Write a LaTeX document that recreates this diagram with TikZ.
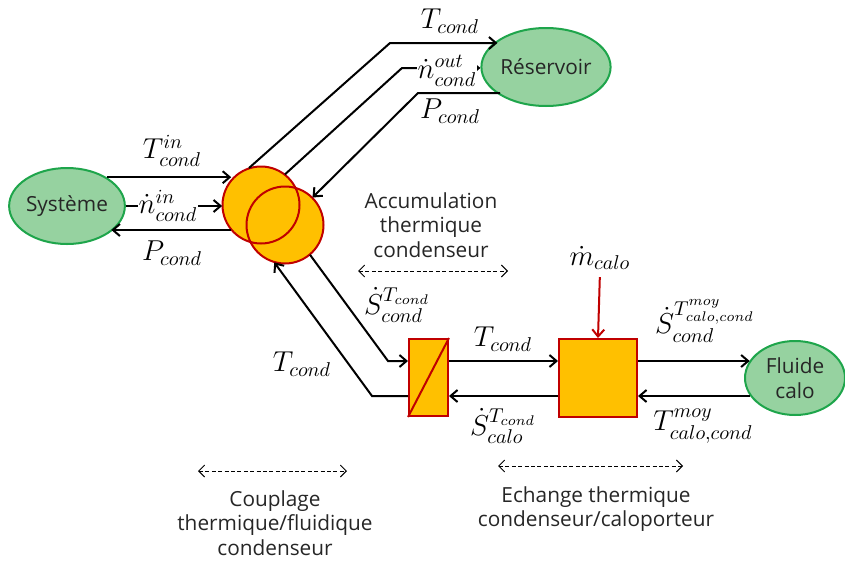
\documentclass[tikz,border=0pt]{standalone}
\usepackage{amsmath}
\usepackage{fontspec}
\setmainfont{Open Sans}
\usetikzlibrary{positioning,arrows.meta,calc,shapes.geometric}
\definecolor{leaf}{RGB}{150,210,160}
\definecolor{leafline}{RGB}{30,165,75}
\definecolor{amber}{RGB}{255,192,0}
\definecolor{brick}{RGB}{192,0,0}
\newcommand{\txtsize}{\fontsize{10.4}{12.2}\selectfont}

\begin{document}
\begin{tikzpicture}[x=0.5pt,y=-0.5pt,
    flux/.style={-{Straight Barb[length=3.5pt,width=6pt]},line width=1pt},
    zone/.style={{Straight Barb[length=3pt,width=6pt]}-{Straight Barb[length=3pt,width=6pt]},line width=0.45pt,dash pattern=on 2pt off 1.2pt},
    blob/.style={ellipse,draw=leafline,fill=leaf,line width=1pt,inner sep=0pt,align=center,font=\txtsize,text=black!85},
    bulle/.style={circle,fill=amber,minimum size=38.5pt,inner sep=0pt},
    boite/.style={rectangle,draw=brick,fill=amber,line width=1pt,inner sep=0pt},
    lbl/.style={font=\Large,inner sep=0.5pt},
    txt/.style={align=center,font=\txtsize,text=black!85}]
  \useasboundingbox (0,0) rectangle (845,562);
  \node[blob,minimum width=56pt,minimum height=38pt] (sys) at (67,206) {Système};
  \node[blob,minimum width=56pt,minimum height=39pt] (res) at (546,67) {Réservoir};
  \node[blob,minimum width=50pt,minimum height=37pt] (flu) at (795,378) {Fluide\\calo};
  \node[bulle] (cA) at (261,205) {}; \node[bulle] (cB) at (285,225) {};
  \foreach \c in {cA,cB} \draw[brick,line width=1pt] (\c.center) circle[radius=19.25pt];
  \node[boite,minimum width=19.5pt,minimum height=38.5pt] (ech) at (428.5,377.5) {};
  \draw[brick,line width=1pt] (ech.south west) -- (ech.north east);
  \node[boite,minimum size=39pt] (bac) at (598,378) {};
  \node[lbl] (mc) at (600,258) {$\dot{m}_{calo}$};

  \coordinate (kT) at (390,43); \coordinate (kN) at (402,68); \coordinate (kP) at (418,93);
  \coordinate (kS) at (388,361); \coordinate (kR) at (372,396);
  \draw[flux] (sys.36) -- (sys.36 -| cA.140);
  \draw[flux] (sys.east) -- (sys.east -| cA.west);
  \draw[flux] (cA.220) -- (cA.220 -| sys.-30);
  \draw[flux] (cA.108) -- (kT) -- (kT -| res.151);
  \draw[flux] (cA.52) -- (kN) -- (kN -| res.west);
  \draw[flux] (kP -| res.212) -- (kP) -- (cB.45);
  \draw[flux] (cB.-50) -- (kS) -- (kS -| ech.west);
  \draw[flux] (kR -| ech.west) -- (kR) -- (cB.-106);
  \draw[flux] (ech.east |- kS) -- (bac.west |- kS);
  \draw[flux] (bac.west |- kR) -- (ech.east |- kR);
  \draw[flux] (bac.east |- kS) -- (kS -| flu.159);
  \draw[flux] (kR -| flu.202) -- (bac.east |- kR);
  \draw[flux,brick,shorten <=3pt] (mc.south) -- (bac.north);

  \node[lbl] (lTin) at (172,151) {$T^{in}_{cond}$};
  \node[lbl,fill=white] (lNin) at (168,206) {$\dot{n}^{in}_{cond}$};
  \node[lbl] (lPin) at (172,253) {$P_{cond}$};
  \node[lbl] (lTr) at (450,21) {$T_{cond}$};
  \node[lbl,fill=white] (lNr) at (447,71) {$\dot{n}^{out}_{cond}$};
  \node[lbl] (lPr) at (450,111) {$P_{cond}$};
  \node[lbl] (lSc) at (397,305) {$\dot{S}^{T_{cond}}_{cond}$};
  \node[lbl] (lTb) at (302,364) {$T_{cond}$};
  \node[lbl] (lTm) at (503,339) {$T_{cond}$};
  \node[lbl] (lSk) at (503,426) {$\dot{S}^{T_{cond}}_{calo}$};
  \node[lbl] (lSm) at (705,321) {$\dot{S}^{T^{moy}_{calo,cond}}_{cond}$};
  \node[lbl] (lTmoy) at (703,426) {$T^{moy}_{calo,cond}$};

  \node[txt] (acc) at (431,225) {Accumulation\\thermique\\condenseur};
  \node[txt] (coup) at (275,523) {Couplage\\thermique/fluidique\\condenseur};
  \node[txt] (echg) at (596,509) {Echange thermique\\condenseur/caloporteur};
  \coordinate (aG) at (358,271); \coordinate (aD) at (508,271);
  \coordinate (cG) at (198,471); \coordinate (cD) at (347,471);
  \coordinate (eG) at (498,466); \coordinate (eD) at (683,466);
  \draw[zone] (aG) -- (aD); \draw[zone] (cG) -- (cD); \draw[zone] (eG) -- (eD);
\end{tikzpicture}
\end{document}
